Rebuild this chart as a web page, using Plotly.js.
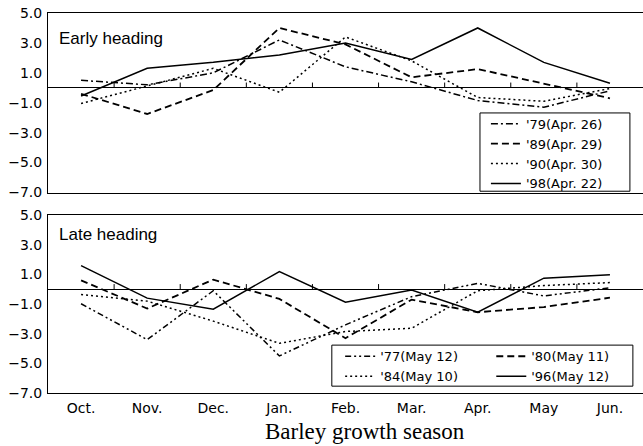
<!DOCTYPE html>
<html><head><meta charset="utf-8">
<script src="https://cdn.plot.ly/plotly-3.0.1.min.js"></script>
<style>html,body{margin:0;padding:0;background:#fff;}</style>
</head><body>
<div id="chart" style="width:643px;height:446px;"></div>
<script>
// ---- data ----
const months = ['Oct.','Nov.','Dec.','Jan.','Feb.','Mar.','Apr.','May','Jun.'];
const yTicks = [5, 3, 1, -1, -3, -5, -7];

// Early heading
const early79 = [0.5, 0.2, 1.0, 3.2, 1.4, 0.4, -0.85, -1.3, -0.2];
const early89 = [-0.4, -1.75, -0.15, 4.0, 2.9, 0.7, 1.25, 0.25, -0.7];
const early90 = [-1.05, 0.15, 1.3, -0.3, 3.4, 1.8, -0.65, -0.9, -0.05];
const early98 = [-0.55, 1.3, 1.7, 2.2, 3.0, 1.9, 4.0, 1.7, 0.3];

// Late heading
const late77 = [-0.98, -3.4, -0.1, -4.5, -2.4, -0.5, 0.4, -0.45, 0.1];
const late80 = [0.6, -1.3, 0.65, -0.65, -3.3, -0.7, -1.55, -1.2, -0.57];
const late84 = [-0.35, -0.8, -2.15, -3.65, -2.85, -2.63, -0.1, 0.25, 0.45];
const late96 = [1.6, -0.6, -1.35, 1.2, -0.87, -0.05, -1.55, 0.75, 0.98];

const earlyNames = ["'79(Apr. 26)", "'89(Apr. 29)", "'90(Apr. 30)", "'98(Apr. 22)"];
const lateNames = ["'77(May 12)", "'80(May 11)", "'84(May 10)", "'96(May 12)"];

// ---- styles ----
const DASHDOT = '7px,3px,2px,3px';
const DASHDOTDOT = '6px,3px,2px,3px,2px,3px';
const DASH = '7px,4px';
const DOT = '2px,3px';

function tr(y, name, dash, width, xa, ya, leg) {
  return {x: months, y: y, name: name, type: 'scatter', mode: 'lines',
    xaxis: xa, yaxis: ya, legend: leg,
    line: {color: '#000', width: width, dash: dash}};
}

const data = [
  tr(early79, earlyNames[0], DASHDOT, 1.5, 'x', 'y', 'legend'),
  tr(early89, earlyNames[1], DASH, 1.8, 'x', 'y', 'legend'),
  tr(early90, earlyNames[2], DOT, 1.5, 'x', 'y', 'legend'),
  tr(early98, earlyNames[3], 'solid', 1.5, 'x', 'y', 'legend'),
  tr(late77, lateNames[0], DASHDOTDOT, 1.5, 'x2', 'y2', 'legend2'),
  tr(late84, lateNames[2], DOT, 1.5, 'x2', 'y2', 'legend2'),
  tr(late80, lateNames[1], DASH, 1.8, 'x2', 'y2', 'legend3'),
  tr(late96, lateNames[3], 'solid', 1.5, 'x2', 'y2', 'legend3')
];

const TOP = [0.5276, 1];
const BOT = [0, 0.468];
const tickFont = {family: 'DejaVu Sans', size: 14, color: '#000'};
const legFont = {family: 'DejaVu Sans', size: 13, color: '#000'};

function yax(domain) {
  return {domain: domain, range: [-7, 5], tickvals: yTicks, tickformat: '.1f',
    showgrid: false, zeroline: true, zerolinecolor: '#000', zerolinewidth: 1,
    showline: true, linecolor: '#000', linewidth: 1, mirror: true,
    ticks: '', tickfont: tickFont, ticklabelstandoff: 2};
}
function xax(anchor, labels) {
  return {anchor: anchor, type: 'category', categoryarray: months, range: [-0.5, 8.5],
    showgrid: false, zeroline: false, showline: true, linecolor: '#000', linewidth: 1,
    mirror: true, ticks: '', showticklabels: labels, tickfont: tickFont,
    ticklabelstandoff: 2};
}

// small tick marks on the zero line at month boundaries
const shapes = [];
['', '2'].forEach(s => {
  for (let i = 0; i < months.length - 1; i++) {
    shapes.push({type: 'line', xref: 'x' + s, yref: 'y' + s,
      x0: i + 0.5, x1: i + 0.5, y0: 0, y1: 0.35, line: {color: '#000', width: 1}});
  }
});
// legend boxes
shapes.push({type: 'rect', xref: 'paper', yref: 'paper', layer: 'above',
  x0: 0.726, x1: 0.978, y0: 0.531, y1: 0.737,
  fillcolor: '#fff', line: {color: '#000', width: 1}});
shapes.push({type: 'rect', xref: 'paper', yref: 'paper', layer: 'above',
  x0: 0.477, x1: 0.983, y0: 0.018, y1: 0.126,
  fillcolor: '#fff', line: {color: '#000', width: 1}});

const clearLeg = {xanchor: 'left', yanchor: 'top', bgcolor: 'rgba(0,0,0,0)',
  borderwidth: 0, font: legFont, tracegroupgap: 0};

const layout = {
  width: 643, height: 446,
  margin: {l: 48, r: 0, t: 13, b: 53},
  paper_bgcolor: '#fff', plot_bgcolor: '#fff',
  showlegend: true,
  xaxis: xax('y', false),
  yaxis: yax(TOP),
  xaxis2: xax('y2', true),
  yaxis2: yax(BOT),
  legend: Object.assign({x: 0.736, y: 0.748}, clearLeg),
  legend2: Object.assign({x: 0.491, y: 0.136}, clearLeg),
  legend3: Object.assign({x: 0.745, y: 0.136}, clearLeg),
  shapes: shapes,
  annotations: [
    {text: 'Early heading', xref: 'x domain', yref: 'y domain', x: 0.015, y: 0.857,
     xanchor: 'left', yanchor: 'middle', showarrow: false,
     font: {family: 'Liberation Sans', size: 17, color: '#000'}},
    {text: 'Late heading', xref: 'x2 domain', yref: 'y2 domain', x: 0.015, y: 0.893,
     xanchor: 'left', yanchor: 'middle', showarrow: false,
     font: {family: 'Liberation Sans', size: 17, color: '#000'}},
    {text: 'Barley growth season', xref: 'paper', yref: 'paper', x: 0.533, y: -0.1,
     xanchor: 'center', yanchor: 'middle', showarrow: false,
     font: {family: 'Liberation Serif', size: 23, color: '#000'}}
  ]
};

Plotly.newPlot('chart', data, layout, {displayModeBar: false, staticPlot: true});
</script>
</body></html>
